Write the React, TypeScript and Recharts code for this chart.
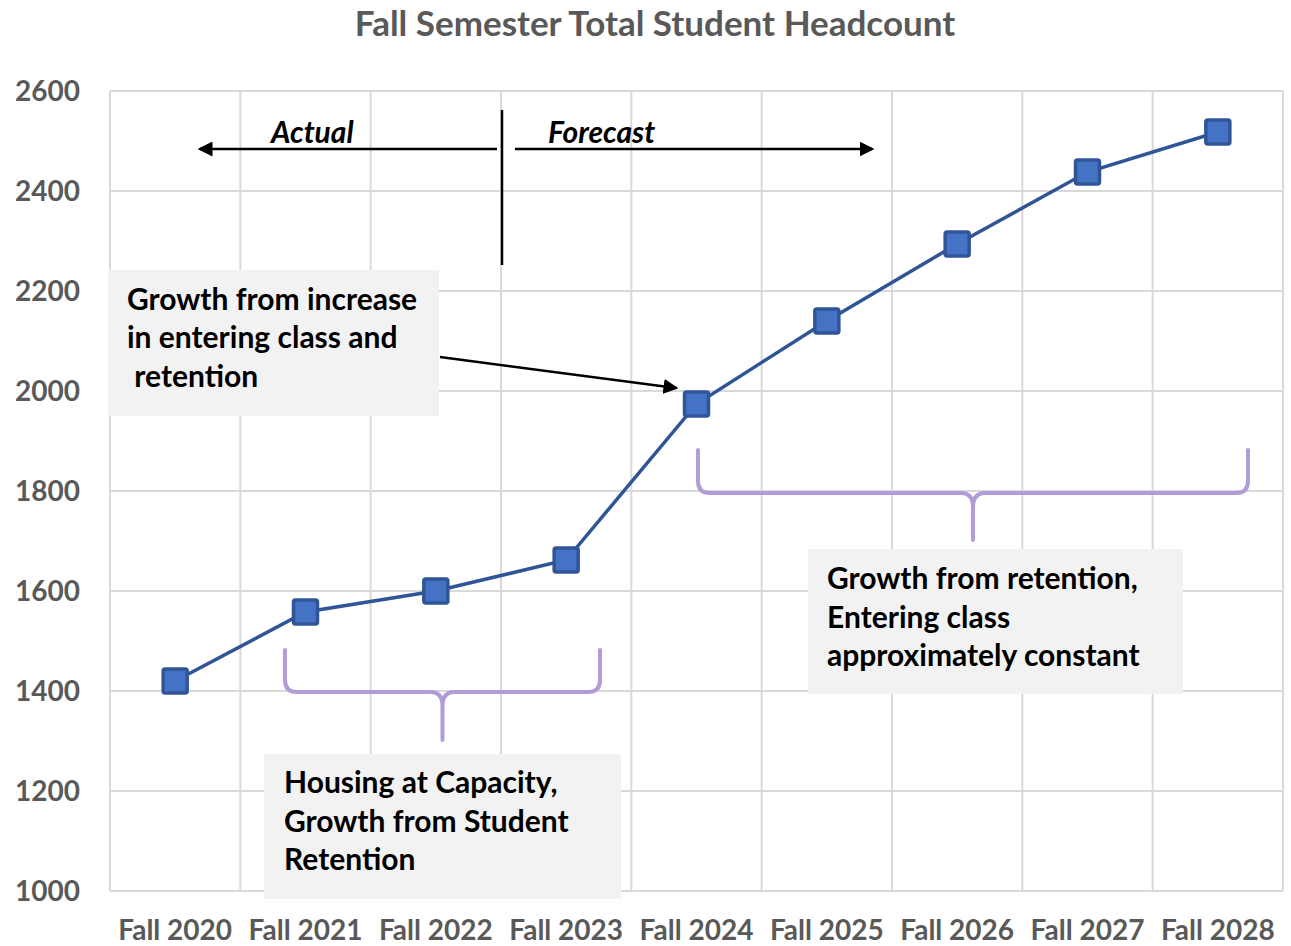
import React from 'react';
import { LineChart, Line, XAxis, YAxis, CartesianGrid } from 'recharts';

const terms = ['Fall 2020', 'Fall 2021', 'Fall 2022', 'Fall 2023', 'Fall 2024', 'Fall 2025', 'Fall 2026', 'Fall 2027', 'Fall 2028'];
const headcount = [1420, 1558, 1600, 1662, 1974, 2140, 2294, 2438, 2518];
const yTicks = [1000, 1200, 1400, 1600, 1800, 2000, 2200, 2400, 2600];

const data = terms.map((term, i) => ({ term, headcount: headcount[i] }));

const FONT = 'Lato, "Open Sans", sans-serif';
const GRID = '#D9D9D9';
const LABEL = '#595959';
const PURPLE = '#B19CD8';

const SquareDot = (props: any) => {
  const { cx, cy, index } = props;
  if (cx == null || cy == null) return null;
  return (
    <rect
      key={`dot-${index}`}
      x={cx - 12}
      y={cy - 12}
      width={24}
      height={24}
      rx={2}
      fill="#4472C4"
      stroke="#2F5597"
      strokeWidth={3.5}
    />
  );
};

// curly brace opening upwards, tip pointing down
const bracePath = (x1: number, x2: number, top: number, mid: number, tip: number) => {
  const c = (x1 + x2) / 2;
  return [
    `M ${x1} ${top}`,
    `L ${x1} ${mid - 12}`,
    `Q ${x1} ${mid} ${x1 + 12} ${mid}`,
    `L ${c - 12} ${mid}`,
    `Q ${c} ${mid} ${c} ${mid + 14}`,
    `L ${c} ${tip}`,
    `M ${c} ${mid + 14}`,
    `Q ${c} ${mid} ${c + 12} ${mid}`,
    `L ${x2 - 12} ${mid}`,
    `Q ${x2} ${mid} ${x2} ${mid - 12}`,
    `L ${x2} ${top}`,
  ].join(' ');
};

const Annotations = () => {
  const text = { fontFamily: FONT, fontWeight: 700, fontSize: 30, fill: '#000' } as const;
  return (
    <svg
      width={1291}
      height={946}
      style={{ position: 'absolute', left: 0, top: 0, pointerEvents: 'none' }}
    >
      <defs>
        <marker id="ah" markerWidth="6" markerHeight="6" refX="5" refY="3" orient="auto" markerUnits="strokeWidth">
          <path d="M0,0 L6,3 L0,6 z" fill="#000" />
        </marker>
      </defs>

      <text x={655} y={36} textAnchor="middle" fontFamily={FONT} fontWeight={700} fontSize={35} fill={LABEL}>
        Fall Semester Total Student Headcount
      </text>

      {/* actual / forecast divider */}
      <line x1={502} y1={110} x2={502} y2={265} stroke="#000" strokeWidth={2.5} />
      <line x1={497} y1={149} x2={200} y2={149} stroke="#000" strokeWidth={2.5} markerEnd="url(#ah)" />
      <line x1={515} y1={149} x2={872} y2={149} stroke="#000" strokeWidth={2.5} markerEnd="url(#ah)" />
      <text x={271} y={143} {...text} fontStyle="italic">Actual</text>
      <text x={548} y={143} {...text} fontStyle="italic">Forecast</text>

      {/* box: growth from entering class */}
      <rect x={108} y={270} width={331} height={146} fill="#F2F2F2" />
      <text {...text}>
        <tspan x={127} y={310}>Growth from increase</tspan>
        <tspan x={127} y={348}>in entering class and</tspan>
        <tspan x={127} y={387}> retention</tspan>
      </text>
      <line x1={440} y1={357} x2={676} y2={388} stroke="#000" strokeWidth={2.5} markerEnd="url(#ah)" />

      {/* brace: housing */}
      <path d={bracePath(285, 600, 650, 692, 740)} fill="none" stroke={PURPLE} strokeWidth={4} strokeLinecap="round" />
      <rect x={264} y={754} width={357} height={145} fill="#F2F2F2" />
      <text {...text}>
        <tspan x={284} y={793}>Housing at Capacity,</tspan>
        <tspan x={284} y={832}>Growth from Student</tspan>
        <tspan x={284} y={870}>Retention</tspan>
      </text>

      {/* brace: retention */}
      <path d={bracePath(698, 1248, 450, 493, 540)} fill="none" stroke={PURPLE} strokeWidth={4} strokeLinecap="round" />
      <rect x={808} y={549} width={375} height={145} fill="#F2F2F2" />
      <text {...text}>
        <tspan x={827} y={589}>Growth from retention,</tspan>
        <tspan x={827} y={628}>Entering class</tspan>
        <tspan x={827} y={666}>approximately constant</tspan>
      </text>
    </svg>
  );
};

export default function App() {
  return (
    <div style={{ position: 'absolute', left: 0, top: 0, width: 1291, height: 946, background: '#fff' }}>
      <LineChart
        width={1291}
        height={946}
        data={data}
        margin={{ top: 91, right: 8, bottom: 0, left: 0 }}
      >
        <CartesianGrid
          stroke={GRID}
          strokeWidth={2}
          verticalCoordinatesGenerator={({ offset }: any) => {
            const n = terms.length;
            return Array.from({ length: n + 1 }, (_, i) => offset.left + (i * offset.width) / n);
          }}
        />
        <XAxis
          dataKey="term"
          scale="band"
          height={55}
          axisLine={{ stroke: GRID, strokeWidth: 2 }}
          tickLine={false}
          tickMargin={23}
          interval={0}
          tick={{ fill: LABEL, fontSize: 28, fontWeight: 700, fontFamily: FONT }}
        />
        <YAxis
          width={110}
          domain={[1000, 2600]}
          ticks={yTicks}
          axisLine={false}
          tickLine={false}
          tickMargin={24}
          tick={{ fill: LABEL, fontSize: 28, fontWeight: 700, fontFamily: FONT }}
        />
        <Line
          dataKey="headcount"
          stroke="#2F5597"
          strokeWidth={3.5}
          dot={<SquareDot />}
          activeDot={false}
          isAnimationActive={false}
        />
      </LineChart>
      <Annotations />
    </div>
  );
}
